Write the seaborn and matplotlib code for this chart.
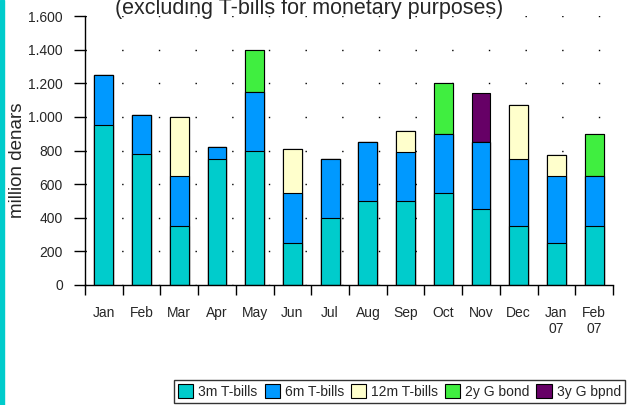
import numpy as np
import pandas as pd
import matplotlib
matplotlib.use("Agg")
import matplotlib.pyplot as plt
import seaborn as sns
from matplotlib.patches import Patch, Rectangle
from matplotlib.ticker import FuncFormatter, FixedLocator

# Meses (ene 2006 - feb 2007)
meses = ["Jan", "Feb", "Mar", "Apr", "May", "Jun", "Jul", "Aug",
         "Sep", "Oct", "Nov", "Dec", "Jan\n07", "Feb\n07"]

# Montos por instrumento, millones de denares
t3m = [950, 780, 350, 750, 800, 250, 400, 500, 500, 550, 450, 350, 250, 350]
t6m = [300, 230, 300, 70, 350, 300, 350, 350, 290, 350, 400, 400, 400, 300]
t12m = [0, 0, 350, 0, 0, 260, 0, 0, 125, 0, 0, 320, 125, 0]
bono2y = [0, 0, 0, 0, 250, 0, 0, 0, 0, 300, 0, 0, 0, 250]
bono3y = [0, 0, 0, 0, 0, 0, 0, 0, 0, 0, 290, 0, 0, 0]

series = ["3m T-bills", "6m T-bills", "12m T-bills", "2y G bond", "3y G bpnd"]
colores = ["#00CCCC", "#0099FF", "#FFFFCC", "#40EE40", "#660066"]

df = pd.DataFrame({
    "mes": meses,
    "3m T-bills": t3m,
    "6m T-bills": t6m,
    "12m T-bills": t12m,
    "2y G bond": bono2y,
    "3y G bpnd": bono3y,
})

# Acumulados para apilar
acum = df[series].cumsum(axis=1)

sns.set_style("white")
plt.rcParams["font.family"] = ["Liberation Sans", "DejaVu Sans"]

fig = plt.figure(figsize=(6.28, 4.05), dpi=100)
ax = fig.add_axes([85 / 628, 1 - 285 / 405, 528 / 628, 269 / 405])

# =========================
# BARRAS APILADAS
# =========================
for serie, color in reversed(list(zip(series, colores))):
    sns.barplot(
        x=df["mes"],
        y=acum[serie],
        order=meses,
        color=color,
        width=0.5,
        edgecolor="black",
        linewidth=0.8,
        saturation=1,
        ax=ax,
    )

ax.set_xlim(-0.5, len(meses) - 0.5)
ax.set_ylim(0, 1600)
ax.set_yticks(np.arange(0, 1601, 200))
ax.yaxis.set_major_formatter(
    FuncFormatter(lambda v, p: f"{int(v):,}".replace(",", "."))
)

# ticks en los limites de categoria
ax.xaxis.set_minor_locator(FixedLocator(np.arange(-0.5, len(meses), 1)))
ax.tick_params(axis="x", which="major", length=0, pad=15, labelsize=10)
ax.tick_params(axis="x", which="minor", length=7, width=1,
               direction="out", color="black", bottom=True)
ax.tick_params(axis="y", length=8, width=1, direction="out",
               color="black", left=True, pad=8, labelsize=10)

for lado in ["top", "right"]:
    ax.spines[lado].set_visible(False)
for lado in ["left", "bottom"]:
    ax.spines[lado].set_color("black")
    ax.spines[lado].set_linewidth(1)

# rejilla punteada
ax.set_axisbelow(True)
ax.yaxis.grid(True, color="black", linewidth=1, linestyle=(0, (1, 25.4)))
ax.xaxis.grid(False)

ax.set_xlabel("")
ax.set_ylabel("million denars", fontsize=13.5, va="center")
ax.yaxis.set_label_coords(-0.128, 0.465)

fig.text(309 / 628, 1 - 14 / 405,
         "(excluding T-bills for monetary purposes)",
         ha="center", va="baseline", fontsize=15.5)

# leyenda
handles = [Patch(facecolor=c, edgecolor="black", linewidth=0.8)
           for c in colores]
leg = fig.legend(
    handles, series, ncol=5, loc="lower left",
    bbox_to_anchor=(174 / 628, 2 / 405),
    frameon=True, fancybox=False, edgecolor="black", fontsize=10,
    handlelength=1.1, handleheight=1.1, handletextpad=0.35,
    columnspacing=0.5, borderpad=0.3, borderaxespad=0,
)
leg.get_frame().set_linewidth(1)

# borde izquierdo
fig.add_artist(Rectangle((0, 0), 4 / 628, 1, transform=fig.transFigure,
                         color="#00CCCC"))

fig.savefig("out.png", dpi=100)
